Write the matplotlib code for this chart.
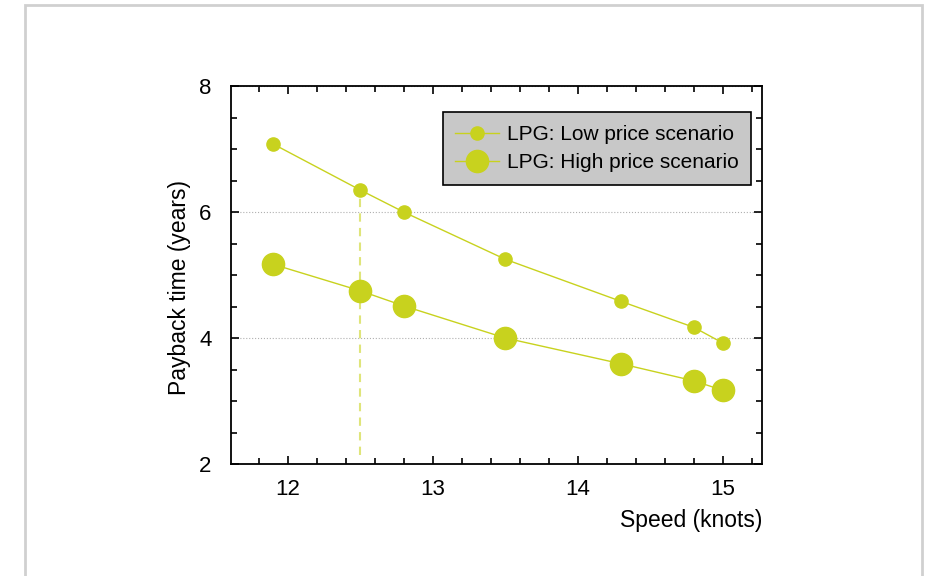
import matplotlib
matplotlib.use("Agg")
import matplotlib.pyplot as plt
from matplotlib.patches import Rectangle
from matplotlib.ticker import MultipleLocator

plt.rcParams["font.family"] = ["Liberation Sans", "DejaVu Sans"]

# Data
speed = [11.9, 12.5, 12.8, 13.5, 14.3, 14.8, 15.0]
low_price = [7.08, 6.35, 6.0, 5.25, 4.58, 4.17, 3.92]
high_price = [5.17, 4.75, 4.51, 4.0, 3.59, 3.32, 3.17]
ref_speed = 12.5
ref_payback = 6.35

green = "#c8d21e"

fig = plt.figure(figsize=(9.32, 5.76), dpi=100)
# light grey page frame
fig.patches.append(Rectangle((25 / 932, -0.05), (922 - 25) / 932, 1.05 - 5 / 576,
                             transform=fig.transFigure, fill=False,
                             edgecolor="#d0d0d0", linewidth=2))

ax = fig.add_axes([231 / 932, 1 - 464 / 576, (762 - 231) / 932, (464 - 86) / 576])

ax.plot(speed, low_price, "-o", color=green, lw=1, ms=9.5, mec=green,
        label="LPG: Low price scenario", zorder=3)
ax.plot(speed, high_price, "-o", color=green, lw=1, ms=16, mec=green,
        label="LPG: High price scenario", zorder=3)
ax.plot([ref_speed, ref_speed], [2.15, ref_payback], "--", color="#dfe57a",
        lw=1.5, dashes=(4, 3), zorder=2)

ax.set_xlim(11.61, 15.27)
ax.set_ylim(2, 8)
ax.xaxis.set_major_locator(MultipleLocator(1))
ax.xaxis.set_minor_locator(MultipleLocator(0.2))
ax.yaxis.set_major_locator(MultipleLocator(2))
ax.yaxis.set_minor_locator(MultipleLocator(0.5))
ax.tick_params(which="both", direction="in", top=True, right=True, width=1.2)
ax.tick_params(which="major", length=6, labelsize=16, pad=11)
ax.tick_params(which="minor", length=4)
ax.tick_params(axis="y", pad=14)
for s in ax.spines.values():
    s.set_linewidth(1.3)

ax.yaxis.grid(True, which="major", color="#b0b0b0", linestyle=":", lw=0.8)
ax.set_axisbelow(True)

ax.set_ylabel("Payback time (years)", fontsize=16.5)
ax.yaxis.set_label_coords(-0.076, 0.467)
ax.set_xlabel("Speed (knots)", fontsize=16.5)
ax.xaxis.set_label_coords(1.0, -0.12)
ax.xaxis.label.set_horizontalalignment("right")

leg = ax.legend(loc="upper right", bbox_to_anchor=(0.98, 0.93), fontsize=15,
                fancybox=False, framealpha=1, facecolor="#c8c8c8",
                edgecolor="black", handlelength=2.1, borderpad=0.6,
                labelspacing=0.45, handletextpad=0.4, borderaxespad=0)
leg.get_frame().set_linewidth(1.2)

fig.savefig("out.png", dpi=100)
